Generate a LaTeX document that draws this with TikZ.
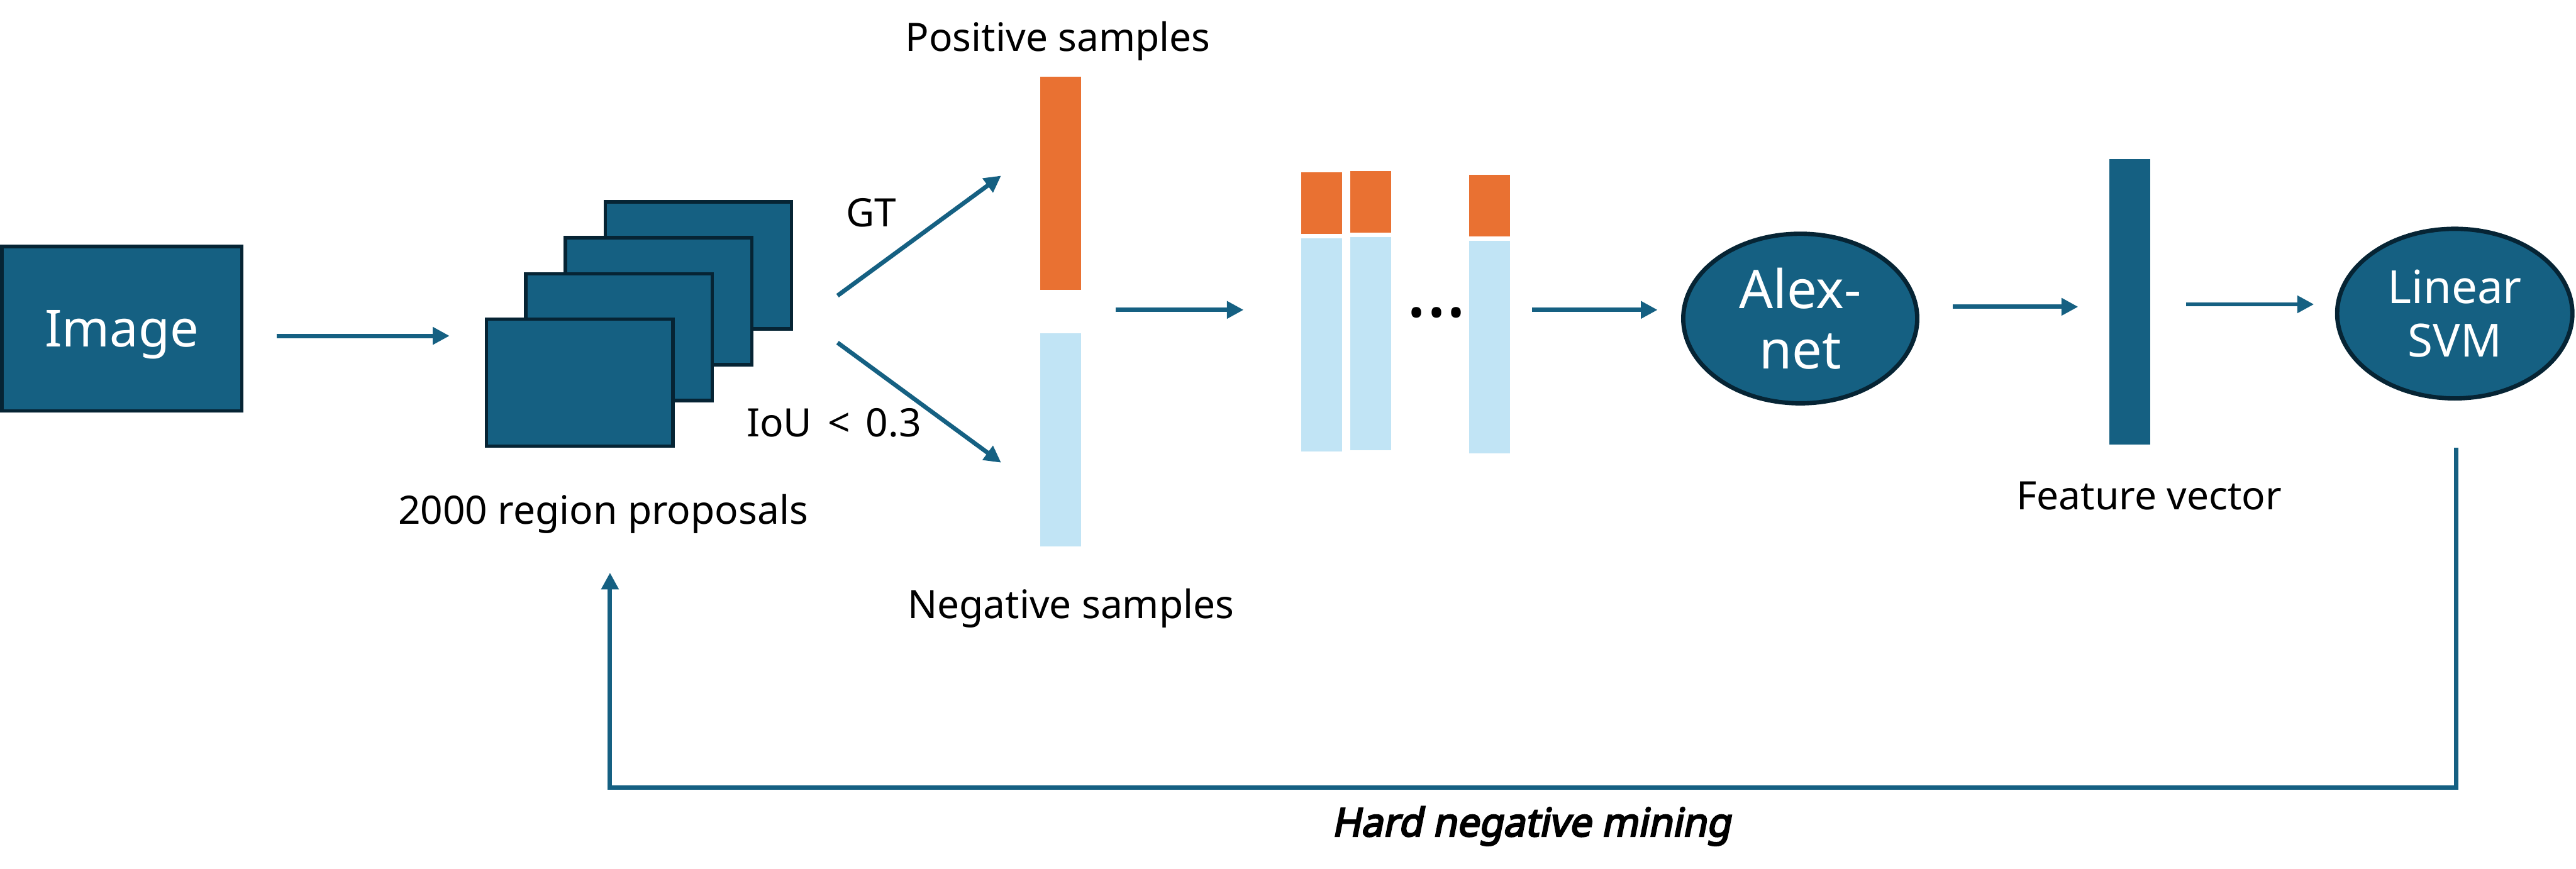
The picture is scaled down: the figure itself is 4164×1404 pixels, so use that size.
\documentclass[tikz,border=0pt]{standalone}
\usepackage{fontspec}
\setmainfont{Noto Sans}
\newfontfamily\hardfont[FakeSlant=0.2,FakeBold=4]{Noto Sans}
\usetikzlibrary{arrows.meta,shapes.geometric}
\definecolor{tealA}{HTML}{156082}
\definecolor{tealD}{HTML}{062434}
\definecolor{orA}{HTML}{E97132}
\definecolor{ltA}{HTML}{C1E4F5}
\tikzset{
  arr/.style={draw=tealA, line width=0.07cm, -{Triangle[length=0.27cm,width=0.27cm]}},
  framebox/.style={rectangle, fill=tealA, draw=tealD, line width=0.055cm, inner sep=0pt},
  ellbox/.style={ellipse, fill=tealA, draw=tealD, line width=0.07cm, inner sep=0pt, text=white, align=center},
  barbox/.style={rectangle, inner sep=0pt, draw=none, minimum width=0.66cm},
  lbl/.style={font=\fontsize{18}{22}\selectfont, text=black, inner sep=0pt, anchor=base},
}
\begin{document}
\begin{tikzpicture}[x=0.01cm,y=-0.01cm]
\useasboundingbox (0,0) rectangle (4164,1404);

% Image
\node[framebox, minimum width=3.88cm, minimum height=2.655cm, text=white, text depth=0pt,
      font=\fontsize{23.5}{28}\selectfont] (img) at (197,531.5) {Image};

% stacked region proposals
\node[framebox, minimum width=3.01cm, minimum height=2.05cm] (f1) at (1129,429) {};
\node[framebox, minimum width=3.01cm, minimum height=2.05cm] (f2) at (1064.5,487) {};
\node[framebox, minimum width=3.01cm, minimum height=2.05cm] (f3) at (1000.5,545) {};
\node[framebox, minimum width=3.01cm, minimum height=2.05cm] (f4) at (937,618.5) {};
\node[lbl] (lprop) at (975,847) {2000 region proposals};

% positive / negative samples
\node[barbox, fill=orA, minimum height=3.45cm] (pos) at (1714,296.5) {};
\node[barbox, fill=ltA, minimum height=3.44cm] (neg) at (1714,711) {};
\node[lbl] (lpos) at (1710,83) {Positive samples};
\node[lbl] (lneg) at (1731,1000) {Negative samples};
\node[lbl] (lgt) at (1408,367) {GT};
\node[lbl] (liou) at (1348,706) {IoU\hspace{0.4em}<\hspace{0.4em}0.3};

% mixed batches
\node[barbox, fill=orA, minimum height=0.99cm] (b1o) at (2136,328.5) {};
\node[barbox, fill=ltA, minimum height=3.45cm] (b1b) at (2136,557.5) {};
\node[barbox, fill=orA, minimum height=0.99cm] (b2o) at (2216,326.5) {};
\node[barbox, fill=ltA, minimum height=3.45cm] (b2b) at (2216,555.5) {};
\node[barbox, fill=orA, minimum height=0.99cm] (b3o) at (2408,332.5) {};
\node[barbox, fill=ltA, minimum height=3.44cm] (b3b) at (2408,561) {};
\node[font=\fontsize{20}{22}\selectfont, inner sep=0pt] (dots) at (2322,514) {\textbullet\hspace{0.08em}\textbullet\hspace{0.08em}\textbullet};

% Alexnet
\node[ellbox, minimum width=3.78cm, minimum height=2.74cm, font=\fontsize{24.5}{27.9}\selectfont] (alex) at (2910,515) {Alex-\\net};

% feature vector
\node[barbox, fill=tealA, minimum height=4.62cm] (feat) at (3443,488) {};
\node[lbl] (lfeat) at (3474,824) {Feature vector};

% Linear SVM
\node[ellbox, minimum width=3.80cm, minimum height=2.74cm, font=\fontsize{21}{24.75}\selectfont] (svm) at (3968,507) {Linear\\SVM};

% arrows
\draw[arr] ([shift={(53,11.5)}]img.east) -- ([shift={(-57,-75.5)}]f4.west);
\draw[arr] ([shift={(71.5,49)}]f1.east) -- ([shift={(-62,-12.5)}]pos.west);
\draw[arr] ([shift={(71.5,125)}]f1.east) -- ([shift={(-62,37)}]neg.west);
\draw[arr] ([shift={(56,204.5)}]pos.east) -- ([shift={(-92,-56.5)}]b1b.west);
\draw[arr] ([shift={(35,-60)}]b3b.east) -- ([shift={(-38,-14)}]alex.west);
\draw[arr] ([shift={(54,-19)}]alex.east) -- ([shift={(-50,8)}]feat.west);
\draw[arr] ([shift={(57,4)}]feat.east) -- ([shift={(-34,-15)}]svm.west);

% hard negative mining feedback
\draw[arr] ([shift={(2,76)}]svm.south) -- ++(0,550) -| ([shift={(49,202)}]f4.south);
\node[lbl, font=\fontsize{18}{22}\selectfont\hardfont] (lhard) at (2475,1352) {Hard negative mining};
\end{tikzpicture}
\end{document}
